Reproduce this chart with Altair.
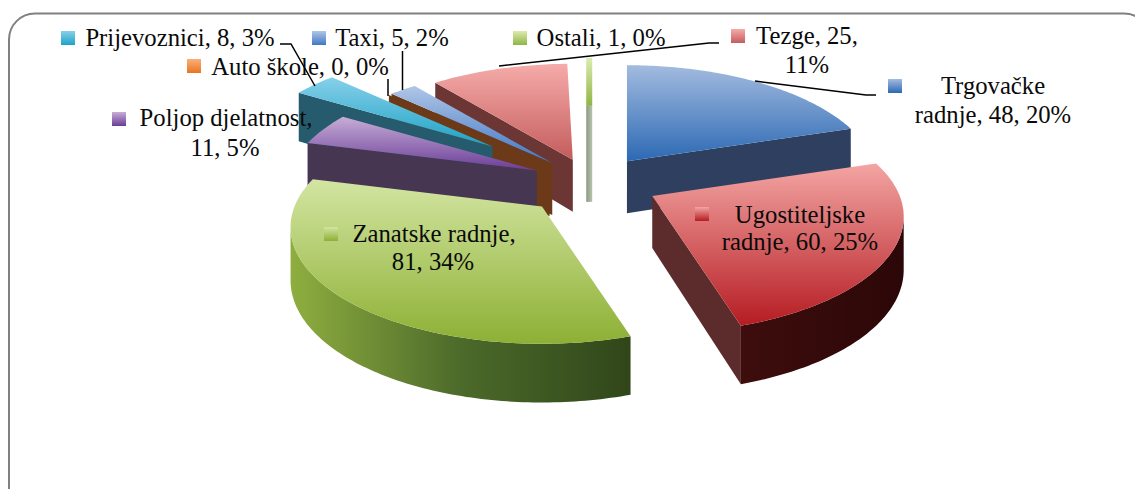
import math
import altair as alt
import pandas as pd

names = ["Trgovačke radnje", "Ugostiteljske radnje", "Zanatske radnje", "Poljop djelatnost",
         "Prijevoznici", "Auto škole", "Taxi", "Tezge", "Ostali"]
values = [48, 60, 81, 11, 8, 0, 5, 25, 1]
explode = [0.26, 0.27, 0.24, 0.26, 0.52, 0.23, 0.23, 0.20, 0.24]
nudge = [(3, 6), (7, 3), (-3, 8), (10, 3), (9, 3), (5, 3), (5, 3), (4, 2), (4, 2)]
top_stops = [("#a3bbdf", "#2c69b4"), ("#f3a5a3", "#b51c22"), ("#d3e5a2", "#8db034"),
             ("#c7add6", "#6a3d98"), ("#86d0ea", "#1fa2c6"), ("#fbb07a", "#e8751f"),
             ("#b0c6e6", "#4177c4"), ("#f5acaa", "#c45c5c"), ("#dcebaf", "#8fb545")]
wall_col = ["#2e3f60", "#5c2b2b", "#3f5a24", "#463652", "#255b6c", "#6c3a18", "#6c3a18", "#6b3634", "#8b9a82"]
arc_stops = [["#2e3f60", "#2e3f60"], ["#3e0d0d", "#2c0707"], ["#8fae3f", "#4c6a2a", "#30461a"],
             ["#463652", "#463652"], ["#255b6c", "#255b6c"], ["#6c3a18", "#6c3a18"],
             ["#3d5478", "#3d5478"], ["#6b3634", "#6b3634"], ["#7f9274", "#7f9274"]]
draw_order = [8, 7, 6, 5, 4, 3, 2, 0, 1]

label_lines = [
    ("Prijevoznici, 8, 3%", 180, 39), ("Taxi, 5, 2%", 392, 39), ("Ostali, 1, 0%", 601, 39),
    ("Tezge, 25,", 807, 37), ("11%", 807, 66), ("Auto škole, 0, 0%", 300, 68),
    ("Poljop djelatnost,", 226, 119), ("11, 5%", 225, 149),
    ("Trgovačke", 993, 87), ("radnje, 48, 20%", 993, 116),
    ("Ugostiteljske", 800, 216), ("radnje, 60, 25%", 800, 243),
    ("Zanatske radnje,", 434, 235), ("81, 34%", 433, 263),
]
key_pos = {"Prijevoznici": (61, 31), "Taxi": (312, 31), "Ostali": (513, 31), "Auto škole": (187, 59),
           "Poljop djelatnost": (112, 112), "Zanatske radnje": (324, 227), "Tezge": (731, 29),
           "Trgovačke radnje": (888, 79), "Ugostiteljske radnje": (695, 207)}
leaders = [
    [(280, 44), (291, 44), (315, 86)],
    [(402.5, 51), (402.5, 90)],
    [(388, 79), (388, 96)],
    [(499, 66), (709, 43), (719, 43)],
    [(755, 81), (866, 95), (876, 95)],
]

W, H = 1127, 481
CX, CY = 586, 179
A, B, K = 247.5, 113, 0.176
DEPTH = 52

xs = alt.Scale(domain=[8, 8 + W], range=[0, W])
ys = alt.Scale(domain=[8 + H, 8], range=[H, 0])
X = alt.X("x:Q", scale=xs, axis=None)
Y = alt.Y("y:Q", scale=ys, axis=None)


def grad(cols, horizontal=False):
    stops = [alt.GradientStop(offset=i / (len(cols) - 1), color=c) for i, c in enumerate(cols)]
    return alt.LinearGradient(gradient="linear", stops=stops, x1=0, x2=1 if horizontal else 0,
                              y1=0, y2=0 if horizontal else 1)


def polygon(pts, fill):
    df = pd.DataFrame([{"x": p[0], "y": p[1], "i": n} for n, p in enumerate(pts)])
    return alt.Chart(df).mark_line(fill=fill, strokeWidth=0, interpolate="linear-closed").encode(
        x=X, y=Y, order="i:Q")


def proj(apex, th):
    px, py = math.sin(th), math.cos(th)
    s = 1 + K * py
    return (apex[0] + A * px / s, apex[1] - B * py / s, py)


def drop(p):
    return (p[0], p[1] + DEPTH * (1 - 0.13 * p[2]))


layers = []
total = sum(values)
starts, c = [], 0
for v in values:
    starts.append(c)
    c += v

for idx in draw_order:
    t0 = starts[idx] / total * 2 * math.pi
    t1 = (starts[idx] + values[idx]) / total * 2 * math.pi
    mid = (t0 + t1) / 2
    e = explode[idx]
    apex = (CX + e * A * math.sin(mid) + nudge[idx][0], CY - e * B * math.cos(mid) + nudge[idx][1], 0.0)
    n = max(2, int(math.degrees(t1 - t0)) + 1)
    arc = [proj(apex, t0 + (t1 - t0) * j / (n - 1)) for j in range(n)]
    if values[idx] == 1:
        ax, ay, ry = apex[0], apex[1], arc[0][1]
        layers.append(polygon([(ax - 3, ay - 48), (ax + 3, ay - 48), (ax + 3, ay + 48), (ax - 3, ay + 48)],
                              grad([wall_col[idx], "#b9c4b0"], True)))
        layers.append(polygon([(ax - 3, ry), (ax + 3, ry), (ax + 3, ay - 48), (ax - 3, ay - 48)],
                              grad(list(top_stops[idx]))))
        continue
    if arc[0][0] < apex[0]:
        layers.append(polygon([apex, arc[0], drop(arc[0]), drop(apex)], wall_col[idx]))
    if arc[-1][0] > apex[0]:
        layers.append(polygon([arc[-1], apex, drop(apex), drop(arc[-1])], wall_col[idx]))
    vis = [j for j in range(n - 1) if arc[j + 1][0] < arc[j][0]]
    if vis and values[idx] > 0:
        seg = arc[vis[0]:vis[-1] + 2]
        layers.append(polygon(seg + [drop(p) for p in reversed(seg)], grad(arc_stops[idx], True)))
    if values[idx] > 0:
        layers.append(polygon([apex] + arc, grad(list(top_stops[idx]))))

rows = []
for g, line in enumerate(leaders):
    for n, (x, y) in enumerate(line):
        rows.append({"x": x, "y": y, "g": g, "i": n})
layers.append(alt.Chart(pd.DataFrame(rows)).mark_line(color="#000000", strokeWidth=1.5).encode(
    x=X, y=Y, detail="g:N", order="i:Q"))

for nm, (kx, ky) in key_pos.items():
    idx = names.index(nm)
    df = pd.DataFrame([{"x": kx, "y": ky, "x2": kx + 14, "y2": ky + 14}])
    layers.append(alt.Chart(df).mark_rect(fill=grad(list(top_stops[idx]))).encode(
        x=X, y=Y, x2="x2:Q", y2="y2:Q"))

tdf = pd.DataFrame(label_lines, columns=["t", "x", "y"])
layers.append(alt.Chart(tdf).mark_text(font="Liberation Serif", fontSize=24.7, color="#0a0a0a",
                                       align="center", baseline="middle").encode(x=X, y=Y, text="t:N"))

frame = alt.Chart(pd.DataFrame([{"x": 9, "y": 13.5, "x2": 1150, "y2": 560}])).mark_rect(
    fill="transparent", stroke="#808080", strokeWidth=2, cornerRadius=26, clip=True
).encode(x=X, y=Y, x2="x2:Q", y2="y2:Q")

chart = alt.layer(frame, *layers).properties(
    width=W, height=H, padding=0, autosize=alt.AutoSizeParams(type="none")
).configure_view(stroke=None)

chart.save("out.html", embed_options={"renderer": "svg", "actions": False})
